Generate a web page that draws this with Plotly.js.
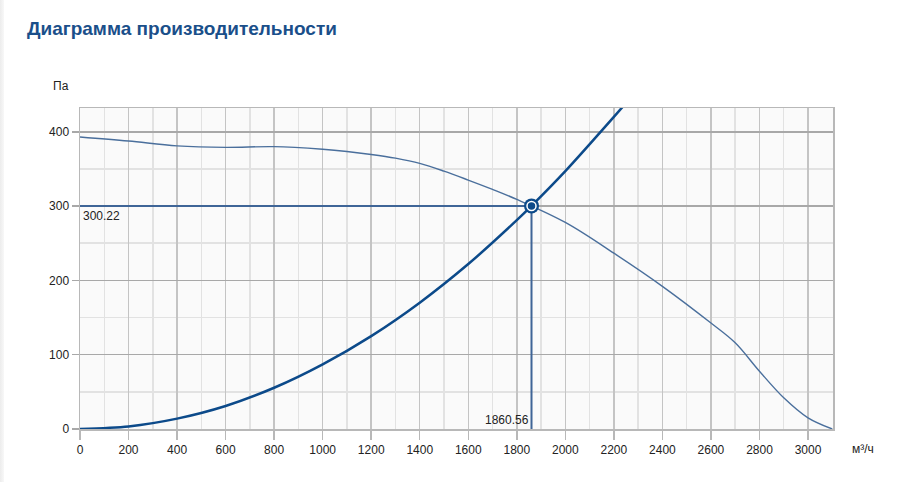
<!DOCTYPE html>
<html>
<head>
<meta charset="utf-8">
<script src="https://cdn.plot.ly/plotly-3.0.1.min.js"></script>
<style>
html,body{margin:0;padding:0;background:#fff;}
#chart{width:900px;height:482px;}
#edge{position:absolute;left:0;top:0;width:4px;height:482px;background:linear-gradient(to right,#ececec,#f8f8f8);}
</style>
</head>
<body>
<div id="chart"></div>
<div id="edge"></div>
<script>
// Fan curve (flow m³/h, pressure Pa)
const fanQ = [0,200,400,600,800,1000,1100,1200,1300,1400,1500,1600,1700,1800,2000,2200,2400,2600,2700,2800,2900,3000,3100];
const fanP = [393,387.5,381,379,380,376.5,373.5,369.5,364.5,357.5,347,335,322.5,309,278,236.6,192,142.6,116,77.7,42,15,0];
// System curve
const sysQ = [0,200,400,600,800,1000,1200,1400,1600,1800,1860.56,2000,2200,2240];
const sysP = [0,3.5,14,31,55.5,87,125,170,222,281,300.22,347,420,435];
// Operating point
const opQ = 1860.56;
const opP = 300.22;
const opLabelQ = '1860.56';
const opLabelP = '300.22';
// Tick values
const xTicks = [0,200,400,600,800,1000,1200,1400,1600,1800,2000,2200,2400,2600,2800,3000];
const yTicks = [0,100,200,300,400];

const dark = '#0c4a8a';
const light = '#4a6f9c';

const traces = [
  {x:[0,opQ], y:[opP,opP], mode:'lines', line:{color:'#3f6597', width:2}, hoverinfo:'skip'},
  {x:[opQ,opQ], y:[0,opP], mode:'lines', line:{color:'#3f6597', width:2}, hoverinfo:'skip'},
  {x:fanQ, y:fanP, mode:'lines', line:{color:light, width:1.4, shape:'spline', smoothing:1}},
  {x:sysQ, y:sysP, mode:'lines', line:{color:dark, width:2.5, shape:'spline', smoothing:0.8}},
  {x:[opQ], y:[opP], mode:'markers', marker:{size:15, color:dark, line:{width:0}}},
  {x:[opQ], y:[opP], mode:'markers', marker:{size:9, color:dark, line:{color:'#ffffff', width:1.5}}}
];

const layout = {
  width:900, height:482,
  paper_bgcolor:'#ffffff', plot_bgcolor:'#fafafa',
  showlegend:false,
  margin:{l:80, r:67, t:108, b:52.5, pad:0},
  font:{family:'Liberation Sans, Arial, sans-serif', size:12, color:'#222'},
  title:{text:'<b>Диаграмма производительности</b>', xref:'container', yref:'container',
         x:27/900, xanchor:'left', y:1-28/482, yanchor:'middle',
         font:{family:'Liberation Sans, Arial, sans-serif', size:19, color:'#1a4f8a'}},
  xaxis:{range:[0,3103], tickvals:xTicks, showgrid:true, gridcolor:'#c4c4c4', gridwidth:1.5,
         minor:{dtick:100, tick0:0, showgrid:true, gridcolor:'#e2e2e2', gridwidth:1.5},
         zeroline:false, showline:true, linecolor:'#b8b8b8', linewidth:1.5, mirror:true,
         ticks:'outside', ticklen:9, tickcolor:'#b8b8b8', tickwidth:1.5,
         tickfont:{size:12, color:'#222'}, fixedrange:true},
  yaxis:{range:[0,432], tickvals:yTicks, showgrid:true, gridcolor:'#a8a8a8', gridwidth:1.5,
         minor:{dtick:50, tick0:0, showgrid:true, gridcolor:'#e2e2e2', gridwidth:1.5},
         zeroline:false, showline:true, linecolor:'#b8b8b8', linewidth:1.5, mirror:true,
         ticks:'outside', ticklen:7, tickcolor:'#a8a8a8', tickwidth:1.5,
         tickfont:{size:12, color:'#222'}, fixedrange:true},
  annotations:[
    {text:'Па', xref:'paper', yref:'paper', x:-0.012, y:1.07, xanchor:'right', yanchor:'middle', showarrow:false, font:{size:12, color:'#222'}},
    {text:'м³/ч', xref:'paper', yref:'paper', x:1.023, y:-0.062, xanchor:'left', yanchor:'middle', showarrow:false, font:{size:12, color:'#222'}},
    {text:opLabelP, x:0, y:opP, xanchor:'left', yanchor:'top', yshift:-1, xshift:1, showarrow:false, font:{size:12, color:'#222'}},
    {text:opLabelQ, x:opQ, y:0, xanchor:'right', yanchor:'bottom', yshift:0, xshift:-1, showarrow:false, font:{size:12, color:'#222'}}
  ]
};

Plotly.newPlot('chart', traces, layout, {displayModeBar:false, staticPlot:true});
</script>
</body>
</html>
